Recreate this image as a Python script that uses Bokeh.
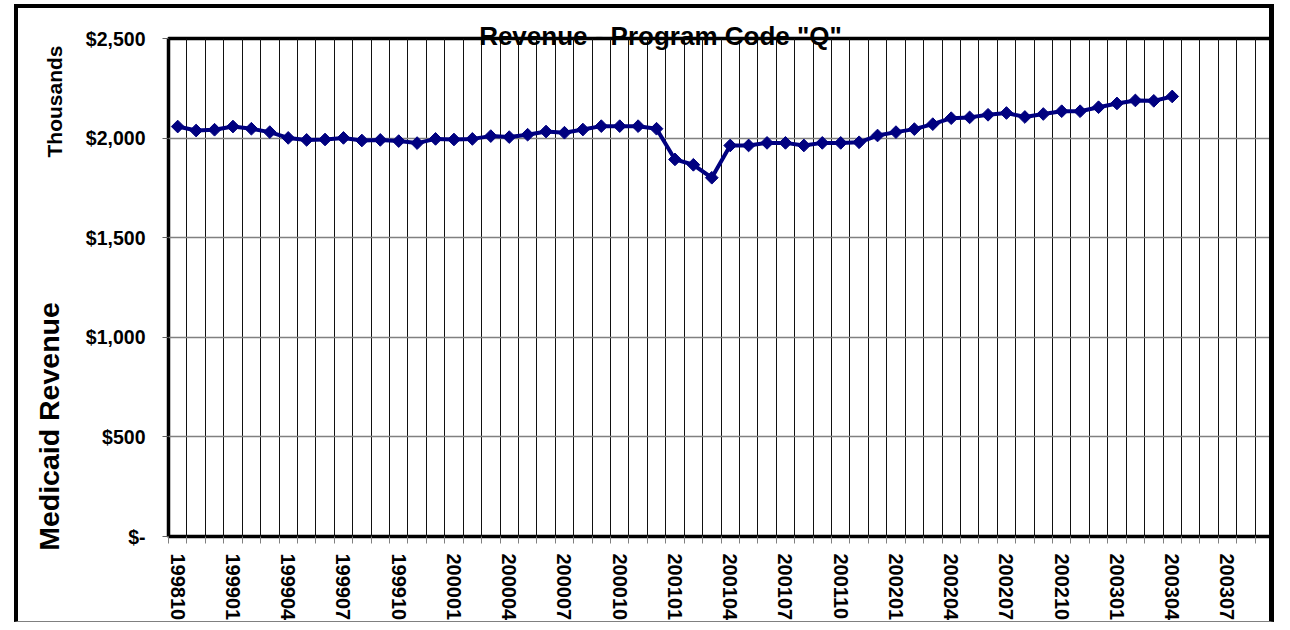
import math
from bokeh.plotting import figure
from bokeh.models import Range1d, FixedTicker, Label
from bokeh.embed import file_html
from bokeh.resources import INLINE

# ---- data -------------------------------------------------------------
months = [
    "199810", "199811", "199812",
    "199901", "199902", "199903", "199904", "199905", "199906",
    "199907", "199908", "199909", "199910", "199911", "199912",
    "200001", "200002", "200003", "200004", "200005", "200006",
    "200007", "200008", "200009", "200010", "200011", "200012",
    "200101", "200102", "200103", "200104", "200105", "200106",
    "200107", "200108", "200109", "200110", "200111", "200112",
    "200201", "200202", "200203", "200204", "200205", "200206",
    "200207", "200208", "200209", "200210", "200211", "200212",
    "200301", "200302", "200303", "200304", "200305", "200306",
    "200307", "200308", "200309",
]

# Medicaid revenue, thousands of dollars (199810 .. 200304)
revenue = [
    2058, 2038, 2042, 2058, 2047, 2030, 2001, 1991, 1993, 2001,
    1988, 1991, 1985, 1975, 1996, 1993, 1996, 2010, 2005, 2017,
    2033, 2027, 2043, 2060, 2060, 2060, 2047, 1893, 1866, 1801,
    1963, 1963, 1976, 1976, 1963, 1976, 1976, 1979, 2013, 2030,
    2045, 2070, 2100, 2104, 2117, 2126, 2106, 2121, 2135, 2135,
    2155, 2174, 2189, 2187, 2209,
]

y_ticks = [0, 500, 1000, 1500, 2000, 2500]
y_tick_labels = ["$-", "$500", "$1,000", "$1,500", "$2,000", "$2,500"]

title_text = 'Revenue - Program Code "Q"'
y_title = "Medicaid Revenue"
unit_text = "Thousands"

# ---- figure -----------------------------------------------------------
FONT = "Liberation Sans"
n = len(months)
xs = list(range(len(revenue)))

p = figure(
    width=1260, height=618,
    output_backend="svg", toolbar_location=None, title=None,
    x_range=Range1d(-0.5, n - 0.5), y_range=Range1d(0, 2500),
    min_border_left=150, min_border_right=5,
    min_border_top=30, min_border_bottom=90,
    background_fill_color="white", border_fill_color="white",
    styles={
        "margin-left": "14px",
        "margin-top": "4px",
        "border-top": "4px solid black",
        "border-left": "4px solid black",
        "border-right": "5px solid black",
        "border-bottom": "1px solid #808080",
    },
)
p.outline_line_color = "black"
p.outline_line_width = 3.5

# grid
boundaries = [i + 0.5 for i in range(n - 1)]
p.xgrid.ticker = FixedTicker(ticks=boundaries)
p.xgrid.grid_line_color = "#111111"
p.xgrid.grid_line_width = 1
p.ygrid.ticker = FixedTicker(ticks=y_ticks)
p.ygrid.grid_line_color = "#808080"
p.ygrid.grid_line_width = 1.5

# x axis
xax = p.xaxis[0]
label_idx = list(range(0, n, 3))
xax.ticker = FixedTicker(ticks=label_idx,
                         minor_ticks=[i - 0.5 for i in range(n + 1)])
xax.major_label_overrides = {i: months[i] for i in label_idx}
xax.major_label_orientation = "vertical"
xax.major_tick_line_color = None
xax.major_tick_out = 6
xax.major_tick_in = 0
xax.minor_tick_out = 7
xax.minor_tick_in = 0
xax.minor_tick_line_color = "#808080"
xax.axis_line_color = None
xax.major_label_standoff = 10
xax.major_label_text_font = FONT
xax.major_label_text_font_style = "bold"
xax.major_label_text_font_size = "20px"
xax.major_label_text_color = "black"

# y axis
yax = p.yaxis[0]
yax.ticker = FixedTicker(ticks=y_ticks)
yax.major_label_overrides = {v: t for v, t in zip(y_ticks, y_tick_labels)}
yax.minor_tick_line_color = None
yax.major_tick_out = 6
yax.major_tick_in = 0
yax.major_tick_line_color = "#606060"
yax.axis_line_color = None
yax.major_label_standoff = 17
yax.major_label_text_font = FONT
yax.major_label_text_font_style = "bold"
yax.major_label_text_font_size = "19.5px"
yax.major_label_text_color = "black"

# series
p.line(xs, revenue, line_color="#000080", line_width=4)
p.scatter(xs, revenue, marker="square", angle=math.pi / 4, size=9,
          fill_color="#000080", line_color="#000080")

# texts (placed in side panels so they are not clipped to the frame)
p.add_layout(Label(x=638, y=23, x_units="canvas", y_units="canvas",
                   text=title_text, text_align="center",
                   text_baseline="middle", text_font=FONT,
                   text_font_style="bold", text_font_size="26px",
                   text_color="black"), "above")
p.add_layout(Label(x=32, y=89, x_units="canvas", y_units="canvas",
                   text=unit_text, angle=math.pi / 2, text_align="center",
                   text_baseline="middle", text_font=FONT,
                   text_font_style="bold", text_font_size="21px",
                   text_color="black"), "left")
p.add_layout(Label(x=26, y=414, x_units="canvas", y_units="canvas",
                   text=y_title, angle=math.pi / 2, text_align="center",
                   text_baseline="middle", text_font=FONT,
                   text_font_style="bold", text_font_size="28.5px",
                   text_color="black"), "left")

open("out.html", "w").write(file_html(p, INLINE))
